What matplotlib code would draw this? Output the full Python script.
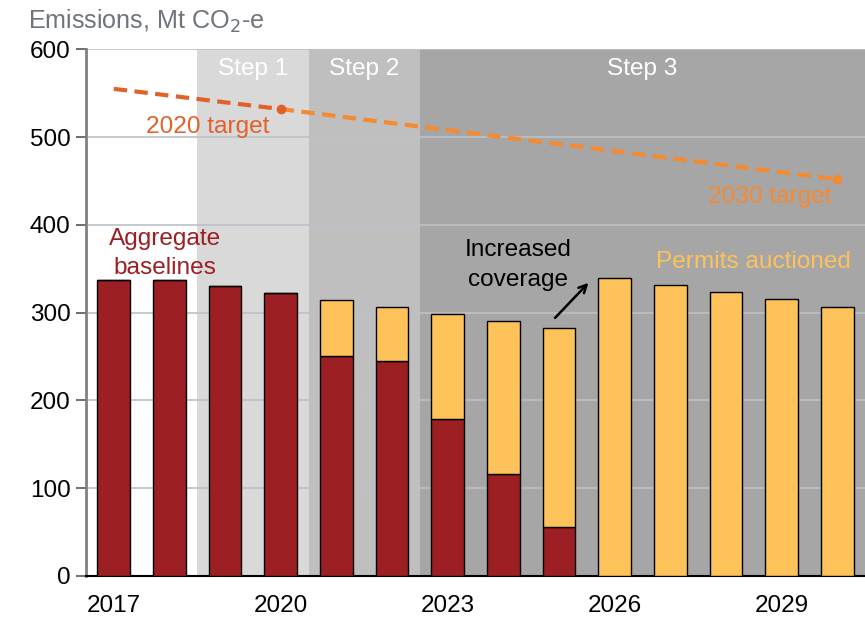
import matplotlib
matplotlib.use("Agg")
import matplotlib.pyplot as plt

plt.rcParams['font.family'] = ['Liberation Sans', 'DejaVu Sans']

years = [2017, 2018, 2019, 2020, 2021, 2022, 2023, 2024, 2025, 2026, 2027, 2028, 2029, 2030]
baselines = [337, 337, 330, 322, 251, 245, 179, 116, 56, 0, 0, 0, 0, 0]
auctioned = [0, 0, 0, 0, 63, 61, 119, 174, 226, 339, 331, 323, 315, 307]
target_years_a = [2017, 2020]
target_vals_a = [555, 532]
target_years_b = [2020, 2030]
target_vals_b = [532, 452]
step_labels = ["Step 1", "Step 2", "Step 3"]
step_bounds = [(2018.5, 2020.5), (2020.5, 2022.5), (2022.5, 2030.5)]
step_colors = ["#d9d9d9", "#bfbfbf", "#a6a6a6"]
yticks = [0, 100, 200, 300, 400, 500, 600]
xticks = [2017, 2020, 2023, 2026, 2029]

RED = "#9c1f24"
YEL = "#fec25a"
ORG_D = "#e0622a"
ORG_L = "#f58a30"
FS = 17.6

fig = plt.figure(figsize=(8.65, 6.17), dpi=100)
ax = fig.add_axes([0.0994, 0.0665, 0.9006, 0.8535])
ax.set_xlim(2016.5, 2030.5)
ax.set_ylim(0, 600)

for (x0, x1), c, lab in zip(step_bounds, step_colors, step_labels):
    ax.axvspan(x0, x1, color=c, zorder=0, lw=0)
    ax.text((x0 + x1) / 2, 578, lab, color="white", fontsize=FS,
            ha="center", va="center", zorder=5)

for y in yticks[1:]:
    ax.axhline(y, color="#b9c2ca", lw=1.2, zorder=1)

w = 0.587
ax.bar(years, baselines, width=w, color=RED, edgecolor="black", lw=1, zorder=3)
ax.bar(years, auctioned, width=w, bottom=baselines, color=YEL, edgecolor="black", lw=1, zorder=3)

ax.plot(target_years_a, target_vals_a, ls=(0, (3.2, 1.8)), color=ORG_D, lw=3, zorder=4)
ax.plot(target_years_b, target_vals_b, ls=(0, (3.2, 1.8)), color=ORG_L, lw=3, zorder=4)
ax.plot([2020], [532], "o", color=ORG_D, ms=6, zorder=5)
ax.plot([2030], [452], "o", color=ORG_L, ms=6, zorder=5)

ax.text(2018.68, 511, "2020 target", color=ORG_D, fontsize=FS, ha="center", va="center", zorder=5)
ax.text(2028.78, 432, "2030 target", color=ORG_L, fontsize=FS, ha="center", va="center", zorder=5)
ax.text(2017.92, 384, "Aggregate", color=RED, fontsize=FS, ha="center", va="center", zorder=5)
ax.text(2017.92, 351, "baselines", color=RED, fontsize=FS, ha="center", va="center", zorder=5)
ax.text(2024.27, 371, "Increased", color="black", fontsize=FS, ha="center", va="center", zorder=5)
ax.text(2024.27, 337, "coverage", color="black", fontsize=FS, ha="center", va="center", zorder=5)
ax.text(2028.5, 358, "Permits auctioned", color=YEL, fontsize=FS, ha="center", va="center", zorder=5)
ax.annotate("", xy=(2025.53, 334), xytext=(2024.93, 294),
            arrowprops=dict(arrowstyle="->", color="black", lw=1.8, mutation_scale=14,
                            shrinkA=0, shrinkB=0), zorder=6)

ax.set_yticks(yticks)
ax.set_yticklabels([str(v) for v in yticks], fontsize=17.5)
ax.set_xticks(xticks)
ax.set_xticklabels([str(v) for v in xticks], fontsize=17.5)
ax.tick_params(axis="x", length=0, pad=14)
ax.tick_params(axis="y", length=7, width=1.2, color="#555555", pad=4)

for s in ["top", "right"]:
    ax.spines[s].set_visible(False)
ax.spines["left"].set_color("#808080")
ax.spines["left"].set_linewidth(2)
ax.spines["bottom"].set_color("black")
ax.spines["bottom"].set_linewidth(1.5)

fig.text(0.032, 0.966, "Emissions, Mt CO$_2$-e", color="#6d747b", fontsize=18.1, ha="left", va="center")

fig.savefig("out.png", dpi=100)
